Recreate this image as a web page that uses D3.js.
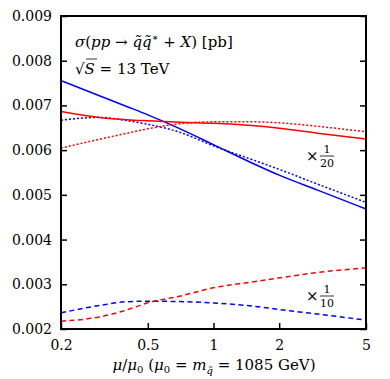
<!DOCTYPE html>
<html>
<head>
<meta charset="utf-8">
<script src="https://cdn.jsdelivr.net/npm/d3@7.9.0/dist/d3.min.js"></script>
<style>
  body { margin: 0; background: #fff; }
  svg text { font-family: "DejaVu Serif", "Liberation Serif", serif; fill: #000; }
</style>
</head>
<body>
<svg id="chart" width="390" height="379"></svg>
<script>
// scale values mu/mu0
const muValues = [0.2, 0.3, 0.4, 0.5, 0.7, 1, 1.5, 2, 3, 5];

// cross sections (already rescaled as in the plot)
const blueSolid  = [0.007555, 0.007216, 0.006977, 0.006790, 0.006482, 0.006122, 0.005713, 0.005441, 0.005106, 0.004684];
const blueDotted = [0.006671, 0.006733, 0.006660, 0.006578, 0.006400, 0.006095, 0.005790, 0.005571, 0.005240, 0.004832];
const redSolid   = [0.006863, 0.006730, 0.006682, 0.006656, 0.006622, 0.006600, 0.006550, 0.006488, 0.006379, 0.006247];
const redDotted  = [0.006046, 0.006243, 0.006377, 0.006477, 0.006589, 0.006633, 0.006633, 0.006611, 0.006533, 0.006410];
const blueDashed = [0.002362, 0.002525, 0.002610, 0.002621, 0.002614, 0.002581, 0.002514, 0.002436, 0.002335, 0.002197];
const redDashed  = [0.002175, 0.002269, 0.002425, 0.002586, 0.002734, 0.002921, 0.003051, 0.003144, 0.003263, 0.003368];

const xTicks = [0.2, 0.5, 1, 2, 5];
const yTicks = [0.002, 0.003, 0.004, 0.005, 0.006, 0.007, 0.008, 0.009];

const series = [
  { values: blueSolid,  color: '#0000ff', dash: null },
  { values: blueDotted, color: '#0000ff', dash: '2,2' },
  { values: redSolid,   color: '#ff0000', dash: null },
  { values: redDotted,  color: '#ff0000', dash: '2,2' },
  { values: blueDashed, color: '#0000ff', dash: '5,3.5' },
  { values: redDashed,  color: '#ff0000', dash: '5,3.5' }
];

const margin = { left: 61, right: 24, top: 16, bottom: 50 };
const width = 390, height = 379;
const svg = d3.select('#chart');

let x = d3.scaleLog().domain([0.2, 5]).range([margin.left, width - margin.right]);
let y = d3.scaleLinear().domain([0.002, 0.009]).range([height - margin.bottom, margin.top]);

// curves
let line = d3.line()
  .x((d, i) => x(muValues[i]))
  .y(d => y(d))
  .curve(d3.curveMonotoneX);

series.forEach(s => {
  svg.append('path')
    .attr('d', line(s.values))
    .attr('fill', 'none')
    .attr('stroke', s.color)
    .attr('stroke-width', 1.5)
    .attr('stroke-dasharray', s.dash);
});

// axes, ticks pointing inward
let tickLen = 6;
let bottom = svg.append('g').attr('transform', `translate(0,${y.range()[0]})`)
  .call(d3.axisBottom(x).tickValues(xTicks).tickFormat(d3.format('')).tickSizeInner(-tickLen).tickSizeOuter(0).tickPadding(10));
let left = svg.append('g').attr('transform', `translate(${margin.left},0)`)
  .call(d3.axisLeft(y).tickValues(yTicks).tickFormat(d3.format('.3f')).tickSizeInner(-tickLen).tickSizeOuter(0).tickPadding(9));
let right = svg.append('g').attr('transform', `translate(${x.range()[1]},0)`)
  .call(d3.axisRight(y).tickValues(yTicks).tickFormat('').tickSizeInner(-tickLen).tickSizeOuter(0));

[bottom, left, right].forEach(g => {
  g.attr('font-family', null);
  g.select('.domain').remove();
  g.selectAll('line').attr('stroke', '#000').attr('stroke-width', 1.5);
  g.selectAll('text').attr('font-size', 14);
});
bottom.selectAll('text').attr('dy', '0.75em');

// frame
svg.append('rect')
  .attr('x', x.range()[0]).attr('y', y.range()[1])
  .attr('width', x.range()[1] - x.range()[0])
  .attr('height', y.range()[0] - y.range()[1])
  .attr('fill', 'none').attr('stroke', '#000').attr('stroke-width', 2);

// labels
let title = svg.append('text').attr('x', 75).attr('y', 47).attr('font-size', 15);
title.append('tspan').attr('font-style', 'italic').text('σ');
title.append('tspan').text('(');
title.append('tspan').attr('font-style', 'italic').text('pp');
title.append('tspan').text(' → ');
title.append('tspan').attr('font-style', 'italic').text('q̃q̃');
title.append('tspan').attr('dy', -6).attr('font-size', 10).text('∗');
title.append('tspan').attr('dy', 6).text(' + ');
title.append('tspan').attr('font-style', 'italic').text('X');
title.append('tspan').text(') [pb]');

let sqrtS = svg.append('text').attr('x', 75).attr('y', 74).attr('font-size', 15);
sqrtS.append('tspan').text('√');
sqrtS.append('tspan').attr('font-style', 'italic').text('S');
sqrtS.append('tspan').text(' = 13 TeV');
svg.append('line').attr('x1', 86).attr('x2', 97).attr('y1', 59).attr('y2', 59)
  .attr('stroke', '#000').attr('stroke-width', 0.8);

function fraction(xp, yp, den) {
  let g = svg.append('g').attr('transform', `translate(${xp},${yp})`);
  g.append('text').attr('x', 0).attr('y', 5).attr('font-size', 15).attr('fill', '#333').text('×');
  g.append('text').attr('x', 21).attr('y', -3).attr('font-size', 11).attr('text-anchor', 'middle').text('1');
  g.append('line').attr('x1', 14).attr('x2', 28).attr('y1', 0).attr('y2', 0).attr('stroke', '#000').attr('stroke-width', 0.8);
  g.append('text').attr('x', 21).attr('y', 11).attr('font-size', 11).attr('text-anchor', 'middle').text(den);
}
fraction(306, 156, '20');
fraction(306, 296, '10');

let xl = svg.append('text').attr('x', 214).attr('y', 370).attr('text-anchor', 'middle').attr('font-size', 15);
xl.append('tspan').attr('font-style', 'italic').text('μ');
xl.append('tspan').text('/');
xl.append('tspan').attr('font-style', 'italic').text('μ');
xl.append('tspan').attr('font-size', 10).attr('dy', 3).text('0');
xl.append('tspan').attr('dy', -3).text(' (');
xl.append('tspan').attr('font-style', 'italic').text('μ');
xl.append('tspan').attr('font-size', 10).attr('dy', 3).text('0');
xl.append('tspan').attr('dy', -3).text(' = ');
xl.append('tspan').attr('font-style', 'italic').text('m');
xl.append('tspan').attr('font-style', 'italic').attr('font-size', 10).attr('dy', 4).text('q̃');
xl.append('tspan').attr('dy', -4).text(' = 1085 GeV)');
</script>
</body>
</html>
